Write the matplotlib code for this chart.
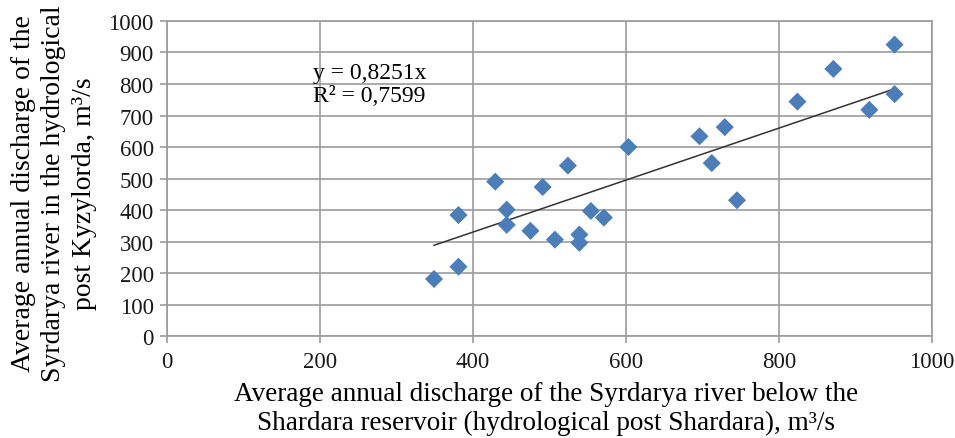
import numpy as np
import matplotlib
matplotlib.use('Agg')
import matplotlib.pyplot as plt

# Annual mean discharge, m3/s: Shardara (x) vs Kyzylorda (y)
shardara = [349, 381, 381, 429, 444, 444, 475, 491, 507, 524, 539, 539,
            554, 571, 603, 696, 712, 729, 745, 824, 871, 918, 951, 951]
kyzylorda = [181, 220, 384, 490, 401, 353, 334, 473, 306, 541, 322, 296,
             397, 376, 600, 634, 549, 663, 431, 744, 848, 718, 925, 768]

slope = 0.8251
r2 = 0.7599

x_ticks = [0, 200, 400, 600, 800, 1000]
y_ticks = list(range(0, 1001, 100))

plt.rcParams['font.family'] = ['Liberation Serif', 'DejaVu Serif']

fig = plt.figure(figsize=(9.55, 4.39), dpi=100)
ax = fig.add_axes([0.1749, 0.2323, 0.8011, 0.7176])

ax.scatter(shardara, kyzylorda, marker='D', s=85, color='#4a7ebb',
           edgecolors='none', zorder=3)

# trend line through the origin, over the range of the data
tx = np.array([min(shardara), max(shardara)])
ax.plot(tx, slope * tx, color='#333333', lw=1.1, zorder=2)

ax.text(191, 838, 'y = {}x'.format(str(slope).replace('.', ',')),
        fontsize=17, va='center', ha='left')
ax.text(191, 762, 'R² = {}'.format(str(r2).replace('.', ',')),
        fontsize=17, va='center', ha='left')

ax.set_xlim(0, 1000)
ax.set_ylim(0, 1000)
ax.set_xticks(x_ticks)
ax.set_yticks(y_ticks)
ax.grid(True, color='#9c9c9c', lw=1.2)
ax.set_axisbelow(True)
for s in ax.spines.values():
    s.set_color('#9c9c9c')
    s.set_linewidth(1.2)
ax.tick_params(colors='#9c9c9c', labelcolor='#1a1a1a', labelsize=16.5,
               length=5, width=1.2, pad=4.5)
ax.tick_params(axis='x', pad=6)

fig.text(546 / 955, 1 - 409 / 439,
         'Average annual discharge of the Syrdarya river below the\n'
         'Shardara reservoir (hydrological post Shardara), m³/s',
         fontsize=19.5, ha='center', va='center', multialignment='center',
         linespacing=1.22)
fig.text(54 / 955, 1 - 194 / 439,
         'Average annual discharge of the\n'
         'Syrdarya river in the hydrological\n'
         'post Kyzylorda, m³/s',
         fontsize=20, ha='center', va='center', multialignment='center',
         rotation=90, linespacing=1.3)

fig.savefig('out.png', dpi=100)
